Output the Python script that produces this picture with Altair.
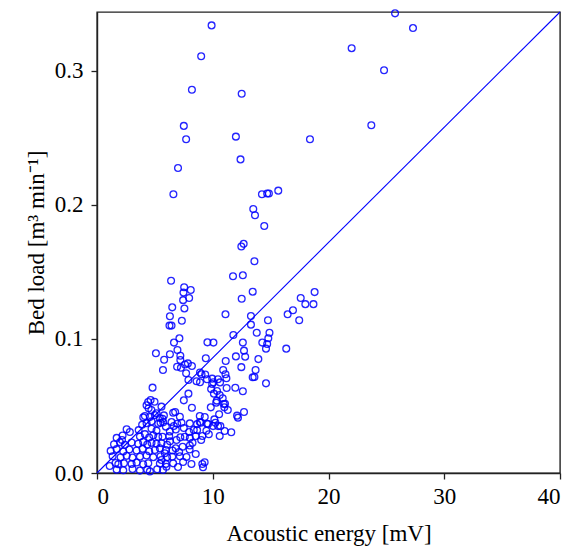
import altair as alt
import pandas as pd

# Acoustic energy [mV]
x_vals = [
    9.9, 9.0, 8.2, 12.5, 7.5, 7.7, 12.0, 18.4, 12.4, 25.75, 27.3, 22.0, 24.8, 23.7,
    7.0, 6.6, 14.25, 14.7, 14.85, 15.66, 13.5, 13.65, 14.45, 12.67, 12.47, 13.6,
    6.4, 11.75, 12.6, 7.53, 8.1, 7.47, 7.96, 7.44, 13.45, 12.5, 6.5, 7.55,
    17.6, 18.0, 18.8, 18.7, 16.93, 16.47, 17.47, 13.3, 13.3, 14.77, 13.8, 14.9,
    14.8, 14.28, 14.7, 14.6, 12.6, 12.7, 12.8, 16.35, 13.94, 12.47, 13.7, 13.45,
    13.6, 14.6, 12.6,
    11.1, 11.78, 9.54, 10.06, 9.4, 11.12, 12.0, 6.3, 6.26, 6.44, 7.33, 5.09, 5.8,
    5.7, 6.3, 6.65, 7.12, 6.95, 7.2, 7.2, 7.25, 7.6, 7.85, 8.2, 7.7, 7.9, 6.92,
    4.8, 7.9, 7.5, 10.9, 11.1, 11.18, 8.9, 8.6, 8.9, 9.03, 9.35, 9.5, 9.95, 10.05,
    10.45, 10.63, 9.95, 11.95, 11.2, 9.86, 10.37, 10.1, 10.6, 10.86, 10.35, 10.95,
    9.83, 11.3, 12.7, 12.1, 12.18, 10.55, 10.14, 10.23, 10.03, 10.46, 10.66, 9.5,
    8.97, 11.03, 11.6, 10.6, 9.66, 9.1, 9.3, 9.1, 9.16, 4.28, 4.46, 4.63, 4.97,
    5.14, 5.57, 4.42, 6.75, 6.58, 8.2, 10.3, 11.06, 11.0, 5.78, 5.66, 5.49, 4.7,
    2.56, 2.84, 4.71, 5.14, 4.28, 4.71, 5.29, 4.14, 4.57, 5.0, 5.43,
    1.7, 2.21, 3.71, 4.14, 4.51, 4.86, 5.29,
    1.47, 1.98, 2.41, 2.99, 3.56, 3.99, 4.34, 4.71, 5.14,
    1.18, 1.7, 2.27, 2.79, 3.42, 3.94, 4.51, 5.0, 5.43,
    1.35, 2.04, 2.56, 3.07, 3.71, 4.28, 4.86, 5.49,
    1.1, 1.6, 1.84, 2.33, 2.99, 3.42, 3.99, 4.43, 5.43,
    1.7, 2.27, 3.07, 3.71, 4.34, 4.57, 5.2,
    2.16, 3.6, 3.9, 4.0,
    5.95, 6.64, 7.5, 7.96, 8.36, 8.88, 9.6, 9.0, 8.25, 7.59, 7.2, 6.87, 6.3, 5.66,
    6.06, 6.8, 7.4, 7.1, 8.53, 7.44, 8.16, 6.58, 6.0, 5.7, 6.5, 5.86, 5.57,
    6.29, 6.81, 8.65, 9.45, 5.72, 6.44, 6.93, 7.3, 8.02, 8.65, 7.16, 8.88, 9.31,
    6.24, 8.02, 8.53, 5.57, 8.02, 5.95, 6.52, 8.0, 6.06, 7.16, 7.73, 5.95, 7.0,
]

# Bed load [m3 min-1]
y_vals = [
    0.334, 0.311, 0.286, 0.283, 0.259, 0.249, 0.251, 0.249, 0.234, 0.343, 0.332, 0.317, 0.3005, 0.2595,
    0.2276, 0.208, 0.208, 0.2086, 0.2086, 0.2107, 0.197, 0.1923, 0.1843, 0.171, 0.169, 0.158,
    0.1435, 0.1468, 0.1475, 0.1386, 0.1366, 0.1346, 0.1306, 0.129, 0.1353, 0.130, 0.1236, 0.1228,
    0.1306, 0.126, 0.135, 0.126, 0.1214, 0.1184, 0.114, 0.1172, 0.1107, 0.114, 0.1047, 0.1047,
    0.1005, 0.0973, 0.0963, 0.0928, 0.0973, 0.0913, 0.0868, 0.0928, 0.085, 0.079, 0.0769, 0.0714,
    0.0716, 0.0669, 0.061,
    0.1184, 0.103, 0.0975, 0.0973, 0.0856, 0.0836, 0.087, 0.117, 0.110, 0.1100, 0.1136, 0.0893, 0.0845,
    0.0769, 0.0886, 0.0973, 0.1005, 0.0918, 0.0875, 0.0843, 0.0785, 0.081, 0.0818, 0.0798, 0.0744, 0.0694, 0.0793,
    0.0637, 0.0592, 0.0542, 0.0769, 0.0737, 0.0707, 0.075, 0.0685, 0.0677, 0.0737, 0.0735, 0.0699, 0.0704, 0.0677,
    0.070, 0.0676, 0.0664, 0.0636, 0.0634, 0.0626, 0.0612, 0.0592, 0.0582, 0.0558, 0.054, 0.0515,
    0.049, 0.047, 0.0455, 0.0428, 0.0413, 0.0438, 0.040, 0.0375, 0.035, 0.035, 0.035, 0.0368,
    0.0375, 0.0313, 0.0304, 0.0276, 0.0289, 0.0276, 0.008, 0.0067, 0.0043, 0.0505, 0.0483, 0.0545, 0.0532,
    0.0445, 0.0495, 0.053, 0.0455, 0.045, 0.0487, 0.0525, 0.0517, 0.049, 0.043, 0.0405, 0.0375, 0.047,
    0.0326, 0.0306, 0.0330, 0.0315, 0.0372, 0.0385, 0.0368, 0.0425, 0.0418, 0.0432, 0.0410,
    0.0262, 0.0280, 0.0272, 0.0290, 0.0265, 0.0282, 0.0270,
    0.0215, 0.0230, 0.0210, 0.0228, 0.0218, 0.0232, 0.0212, 0.0225, 0.0218,
    0.0165, 0.0178, 0.0160, 0.0175, 0.0168, 0.0180, 0.0162, 0.0172, 0.0185,
    0.0125, 0.0118, 0.0128, 0.0115, 0.0122, 0.0130, 0.0118, 0.0125,
    0.0052, 0.0075, 0.0065, 0.0072, 0.0068, 0.0078, 0.0065, 0.0073, 0.0070,
    0.0025, 0.0020, 0.0030, 0.0018, 0.0025, 0.0012, 0.0028,
    0.0246, 0.032, 0.036, 0.0415,
    0.0346, 0.0351, 0.0336, 0.0306, 0.0321, 0.038, 0.0366, 0.0246, 0.0226, 0.0271, 0.0266, 0.0246, 0.0236, 0.0271,
    0.0211, 0.0184, 0.0196, 0.0157, 0.0142, 0.0082, 0.0067, 0.0072, 0.0047, 0.0022, 0.0122, 0.0147, 0.0097,
    0.031, 0.0325, 0.032, 0.0315, 0.0378, 0.038, 0.0368, 0.0375, 0.037, 0.0365, 0.042, 0.0425, 0.0418,
    0.0275, 0.0262, 0.0275, 0.0222, 0.0205, 0.0172, 0.0168, 0.0175, 0.0118, 0.0125, 0.012, 0.0068, 0.0045,
]

line_x = [0, 40]
line_y = [0, 0.344]

x_ticks = [0, 10, 20, 30, 40]
y_ticks = [0.0, 0.1, 0.2, 0.3]

pts = pd.DataFrame({"x": x_vals, "y": y_vals})
ln = pd.DataFrame({"x": line_x, "y": line_y})

FONT = "Liberation Serif"
BLUE = "#0000ff"

xs = alt.Scale(domain=[0, 40], nice=False, zero=False)
ys = alt.Scale(domain=[0, 0.344], nice=False, zero=False)

xaxis = alt.Axis(values=x_ticks, title="Acoustic energy [mV]", grid=False,
                 labelPadding=6, titlePadding=14)
yaxis = alt.Axis(values=y_ticks, format=".1f", title="Bed load [m³ min⁻¹]", grid=False,
                 labelPadding=8, titlePadding=6)

line = alt.Chart(ln).mark_line(color=BLUE, strokeWidth=1.1).encode(
    x=alt.X("x:Q", scale=xs, axis=xaxis),
    y=alt.Y("y:Q", scale=ys, axis=yaxis),
)

points = alt.Chart(pts).mark_point(shape="circle", filled=False, color=BLUE,
                                   size=46, strokeWidth=1.3, opacity=0.85).encode(
    x=alt.X("x:Q", scale=xs),
    y=alt.Y("y:Q", scale=ys),
)

chart = (line + points).properties(
    width=463, height=461,
    autosize=alt.AutoSizeParams(type="none"),
    padding={"left": 89, "top": 4, "right": 14, "bottom": 75},
).configure_view(
    stroke="#222222", strokeWidth=1.4
).configure_axis(
    domainColor="#222222", domainWidth=1.4, tickColor="#222222", tickSize=6, tickWidth=1.3,
    labelFont=FONT, labelFontSize=23, labelColor="#000000",
    titleFont=FONT, titleFontSize=23, titleFontWeight="normal", titleColor="#000000",
)

chart.save("out.html", embed_options={"renderer": "svg", "actions": False})
